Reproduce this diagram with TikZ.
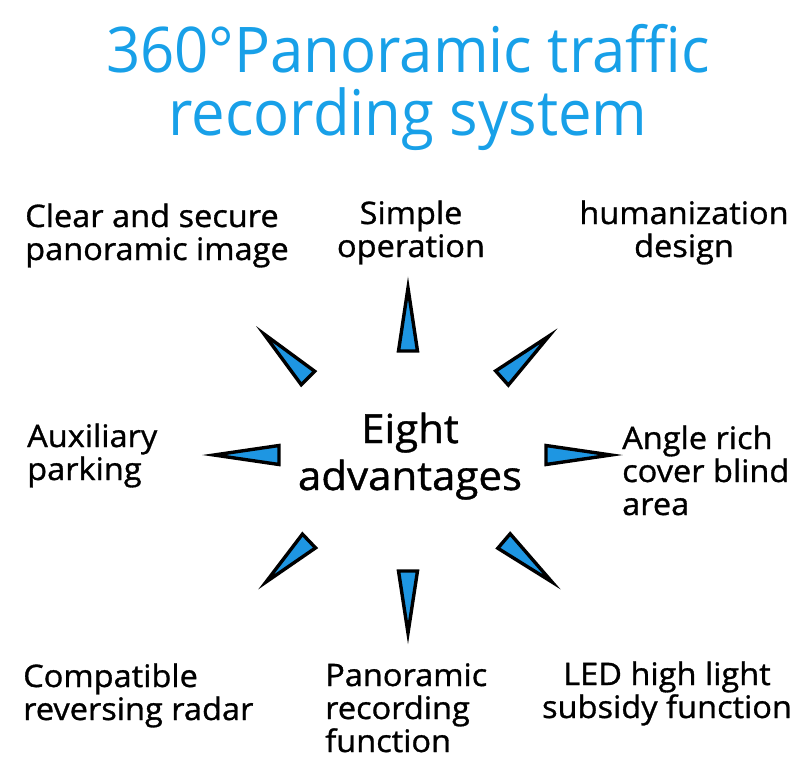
\documentclass[tikz,border=0pt]{standalone}
\usepackage{fontspec}
\setmainfont{Open Sans}[FakeStretch=1.05, FakeBold=1]
\newfontfamily\titlefont[FakeStretch=0.95]{Open Sans}
\usetikzlibrary{calc}
\definecolor{titleblue}{RGB}{24,160,232}
\definecolor{spikeblue}{RGB}{30,150,226}
\tikzstyle{title_text} = [
    text=titleblue,
    font=\titlefont\fontsize{63}{63}\selectfont,
    align=center,
    inner sep=0pt
]
\tikzstyle{label_text} = [
    font=\fontsize{31}{33}\selectfont,
    inner sep=0pt
]
\tikzstyle{centre_text} = [
    font=\fontsize{40}{47}\selectfont,
    align=center,
    inner sep=0pt
]
\tikzstyle{spike} = [
    draw=black,
    fill=spikeblue,
    line width=3.4pt,
    line join=miter,
    miter limit=20
]
\begin{document}
\begin{tikzpicture}[x=1pt, y=-1pt]
\useasboundingbox (0,0) rectangle (800,766);
% base anchor sits on the last line
\node [title_text, anchor=base] (title) at (408,135) {360°Panoramic traffic\\recording system};
\node [centre_text, anchor=base] (centre) at (410,490) {Eight\\advantages};
% labels round the centre
\node [label_text, anchor=base west, align=left] (clear) at (25,260) {Clear and secure\\panoramic image};
\node [label_text, anchor=base, align=center] (simple) at (411,257) {Simple\\operation};
\node [label_text, anchor=base, align=center] (human) at (684,257) {humanization\\design};
\node [label_text, anchor=base west, align=left] (aux) at (27,480) {Auxiliary\\parking};
\node [label_text, anchor=base west, align=left] (angle) at (622,515) {Angle rich\\cover blind\\area};
\node [label_text, anchor=base west, align=left] (compat) at (23,720) {Compatible\\reversing radar};
\node [label_text, anchor=base west, align=left] (panor) at (325,752) {Panoramic\\recording\\function};
\node [label_text, anchor=base, align=center] (led) at (667,718) {LED high light\\subsidy function};
% spikes: base point / tip point
\foreach \n/\bx/\by/\tx/\ty in {
    n/408/351/408/288, ne/502/378/549/336, e/546/455/611/455, se/504/541/552/582,
    s/408/571/408/633, sw/309/541/266/582, w/279/455/214/455, nw/308/378/264/334} {
    \coordinate (b\n) at (\bx,\by);
    \coordinate (t\n) at (\tx,\ty);
    \filldraw [spike] ($(b\n)!9.5pt!90:(t\n)$) -- (t\n) -- ($(b\n)!9.5pt!-90:(t\n)$) -- cycle;
}
\end{tikzpicture}
\end{document}
